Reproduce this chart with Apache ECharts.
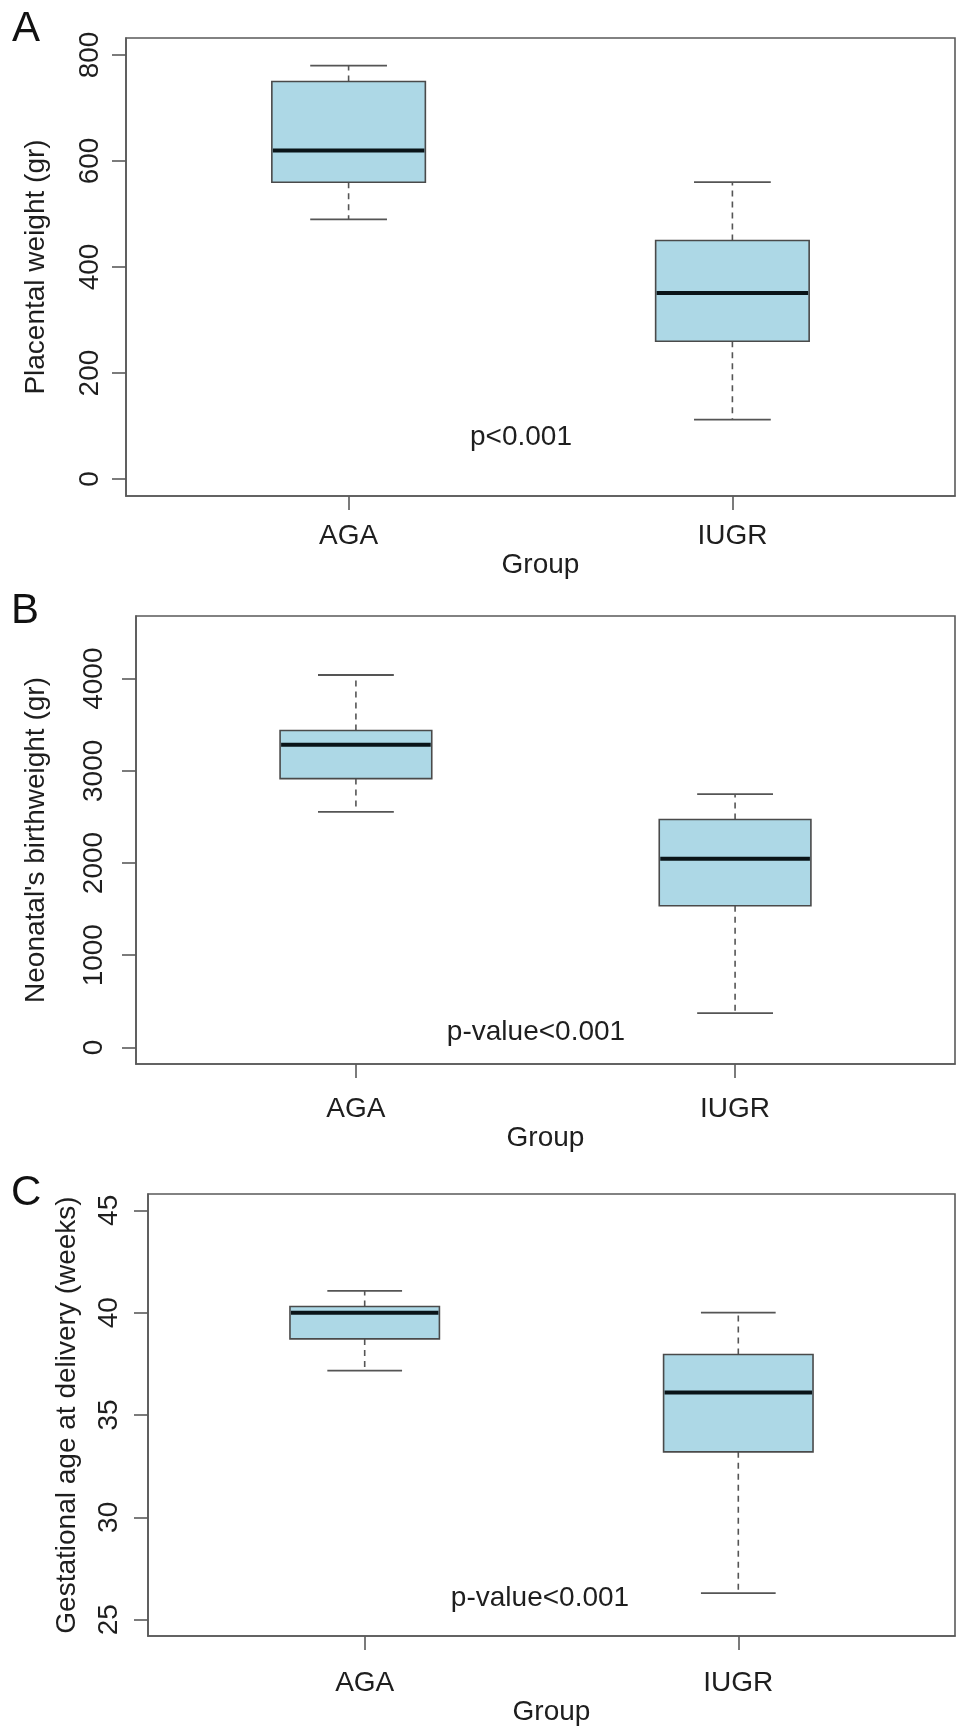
<!DOCTYPE html>
<html>
<head>
<meta charset="utf-8">
<script src="https://cdn.jsdelivr.net/npm/echarts@6/dist/echarts.min.js"></script>
<style>
html,body{margin:0;padding:0;background:#fff;}
#chart{width:969px;height:1735px;}
</style>
</head>
<body>
<div id="chart"></div>
<script>
// ---- data: [min, Q1, median, Q3, max] ----
const groups = ['AGA', 'IUGR'];
const placentalAGA = [490, 560, 620, 750, 780];
const placentalIUGR = [112, 260, 351, 450, 560];
const birthweightAGA = [2555, 2916, 3283, 3438, 4040];
const birthweightIUGR = [371, 1536, 2046, 2472, 2747];
const gestAgeAGA = [37.17, 38.72, 40.0, 40.3, 41.07];
const gestAgeIUGR = [26.3, 33.2, 36.1, 37.96, 40.0];
const yTicksA = [0, 200, 400, 600, 800];
const yTicksB = [0, 1000, 2000, 3000, 4000];
const yTicksC = [25, 30, 35, 40, 45];
const xTicks = [1, 2];
const panelLetters = ['A', 'B', 'C'];
const yTitles = ['Placental weight (gr)', "Neonatal's birthweight (gr)", 'Gestational age at delivery (weeks)'];
const xTitle = 'Group';
const pTexts = ['p<0.001', 'p-value<0.001', 'p-value<0.001'];

const FONT = '"Liberation Sans", Arial, Helvetica, sans-serif';
const TXT = '#1e1e1e';

function renderBox(params, api) {
  const x = api.value(0);
  const lo = api.coord([x, api.value(1)]);
  const q1 = api.coord([x, api.value(2)]);
  const md = api.coord([x, api.value(3)]);
  const q3 = api.coord([x, api.value(4)]);
  const hi = api.coord([x, api.value(5)]);
  const bw = api.size([0.4, 0])[0];
  const cw = api.size([0.2, 0])[0];
  const cx = md[0];
  const wStyle = {stroke: '#555', lineWidth: 1.6, lineDash: [6, 5]};
  const cStyle = {stroke: '#555', lineWidth: 1.8};
  return {
    type: 'group',
    children: [
      {type: 'line', shape: {x1: cx, y1: q3[1], x2: cx, y2: hi[1]}, style: wStyle},
      {type: 'line', shape: {x1: cx, y1: q1[1], x2: cx, y2: lo[1]}, style: wStyle},
      {type: 'line', shape: {x1: cx - cw / 2, y1: hi[1], x2: cx + cw / 2, y2: hi[1]}, style: cStyle},
      {type: 'line', shape: {x1: cx - cw / 2, y1: lo[1], x2: cx + cw / 2, y2: lo[1]}, style: cStyle},
      {type: 'rect', shape: {x: cx - bw / 2, y: q3[1], width: bw, height: q1[1] - q3[1]},
        style: {fill: '#ADD8E6', stroke: '#4a4a4a', lineWidth: 1.6}},
      {type: 'line', shape: {x1: cx - bw / 2 + 1, y1: md[1], x2: cx + bw / 2 - 1, y2: md[1]},
        style: {stroke: '#0a1418', lineWidth: 4}}
    ]
  };
}

const grids = [
  {left: 126, top: 38, right: 14, height: 458},
  {left: 136, top: 616, right: 14, height: 448},
  {left: 148, top: 1194, right: 14, height: 442}
];
const yRanges = [[-32, 832], [-180, 4680], [24.2, 45.8]];
const yTicks = [yTicksA, yTicksB, yTicksC];
const yNameGaps = [76, 86, 67];
const yLabelMargins = [22, 28, 25];
const xLabelMargins = [26, 31, 33];
const xNameGaps = [48, 55, 55];
const seriesData = [
  [[1, ...placentalAGA], [2, ...placentalIUGR]],
  [[1, ...birthweightAGA], [2, ...birthweightIUGR]],
  [[1, ...gestAgeAGA], [2, ...gestAgeIUGR]]
];

const option = {
  animation: false,
  backgroundColor: '#fff',
  textStyle: {fontFamily: FONT},
  grid: grids.map(g => Object.assign({show: true, borderColor: '#5a5a5a', borderWidth: 1.6, backgroundColor: 'transparent'}, g)),
  xAxis: grids.map((g, i) => ({
    type: 'value', gridIndex: i, min: 0.42, max: 2.58,
    splitLine: {show: false},
    axisLine: {show: true, onZero: false, lineStyle: {color: '#5a5a5a', width: 1.6}},
    axisTick: {show: true, customValues: xTicks, length: 14, lineStyle: {color: '#5a5a5a', width: 1.6}},
    axisLabel: {customValues: xTicks, formatter: v => groups[Math.round(v) - 1] || '',
      fontSize: 28, color: TXT, margin: xLabelMargins[i], fontFamily: FONT},
    name: xTitle, nameLocation: 'middle', nameGap: xNameGaps[i],
    nameTextStyle: {fontSize: 28, color: TXT, fontFamily: FONT}
  })),
  yAxis: grids.map((g, i) => ({
    type: 'value', gridIndex: i, min: yRanges[i][0], max: yRanges[i][1],
    splitLine: {show: false},
    axisLine: {show: true, onZero: false, lineStyle: {color: '#5a5a5a', width: 1.6}},
    axisTick: {show: true, customValues: yTicks[i], length: 14, lineStyle: {color: '#5a5a5a', width: 1.6}},
    axisLabel: {customValues: yTicks[i], rotate: 90, fontSize: 28, color: TXT,
      formatter: v => String(v),
      margin: yLabelMargins[i], fontFamily: FONT},
    name: yTitles[i], nameLocation: 'middle', nameRotate: 90, nameGap: yNameGaps[i],
    nameTextStyle: {fontSize: 28, color: TXT, fontFamily: FONT}
  })),
  series: seriesData.map((d, i) => ({
    type: 'custom', xAxisIndex: i, yAxisIndex: i,
    renderItem: renderBox,
    encode: {x: 0, y: [1, 2, 3, 4, 5]},
    data: d
  })),
  graphic: [
    {type: 'text', left: 12, top: 8, style: {text: panelLetters[0], fontSize: 42, fill: '#111', fontFamily: FONT}},
    {type: 'text', left: 11, top: 590, style: {text: panelLetters[1], fontSize: 42, fill: '#111', fontFamily: FONT}},
    {type: 'text', left: 11, top: 1172, style: {text: panelLetters[2], fontSize: 42, fill: '#111', fontFamily: FONT}},
    {type: 'text', x: 521, y: 437, style: {text: pTexts[0], fontSize: 28, fill: TXT, fontFamily: FONT, textAlign: 'center', textVerticalAlign: 'middle'}},
    {type: 'text', x: 536, y: 1032, style: {text: pTexts[1], fontSize: 28, fill: TXT, fontFamily: FONT, textAlign: 'center', textVerticalAlign: 'middle'}},
    {type: 'text', x: 540, y: 1598, style: {text: pTexts[2], fontSize: 28, fill: TXT, fontFamily: FONT, textAlign: 'center', textVerticalAlign: 'middle'}}
  ]
};

const chart = echarts.init(document.getElementById('chart'), null, {renderer: 'canvas'});
chart.setOption(option);
</script>
</body>
</html>
